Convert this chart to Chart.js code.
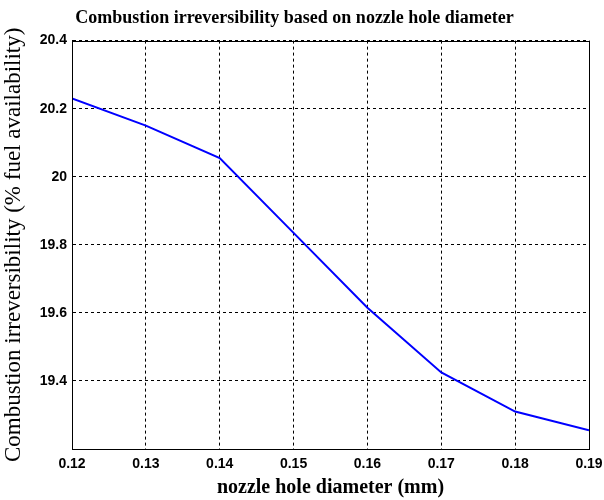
<!DOCTYPE html>
<html>
<head>
<meta charset="utf-8">
<script src="https://cdn.jsdelivr.net/npm/chart.js@4"></script>
<style>
  html, body { margin: 0; padding: 0; background: #fff; }
  #wrap { width: 604px; height: 500px; }
</style>
</head>
<body>
<div id="wrap"><canvas id="chart" width="604" height="500"></canvas></div>
<script>
// ── Data ────────────────────────────────────────────────────
const diameters = [0.12, 0.13, 0.14, 0.15, 0.16, 0.17, 0.18, 0.19];
const irreversibility = [20.23, 20.15, 20.055, 19.835, 19.615, 19.425, 19.31, 19.255];
const yTicks = [19.2, 19.4, 19.6, 19.8, 20, 20.2, 20.4];
const yHidden = [19.2];

const tickFont = { family: "'Liberation Sans', Arial, sans-serif", size: 14, weight: 'bold' };
const serif = "'Liberation Serif', 'Times New Roman', serif";

// plain black frame round the plot area
const frame = {
  id: 'frame',
  afterDraw(chart) {
    const { ctx, chartArea: a } = chart;
    ctx.save();
    ctx.strokeStyle = '#000';
    ctx.lineWidth = 1;
    ctx.strokeRect(Math.round(a.left) + 0.5, Math.round(a.top) + 0.5,
      Math.round(a.right - a.left), Math.round(a.bottom - a.top));
    ctx.restore();
  }
};

new Chart(document.getElementById('chart'), {
  type: 'line',
  data: {
    datasets: [{
      data: diameters.map((d, i) => ({ x: d, y: irreversibility[i] })),
      borderColor: '#0000ff',
      borderWidth: 2,
      pointRadius: 0,
      tension: 0,
      fill: false
    }]
  },
  options: {
    responsive: false,
    animation: false,
    layout: { padding: { left: 0, right: 15, top: 0, bottom: 0 } },
    plugins: {
      legend: { display: false },
      tooltip: { enabled: false },
      title: {
        display: true,
        text: 'Combustion irreversibility based on nozzle hole diameter',
        color: '#000',
        font: { family: serif, size: 18, weight: 'bold' },
        padding: { top: 8, bottom: 11 }
      }
    },
    scales: {
      x: {
        type: 'linear',
        min: 0.12,
        max: 0.19,
        afterBuildTicks: s => { s.ticks = diameters.map(v => ({ value: v })); },
        afterFit: s => { s.height = 51; s.paddingLeft = 0; s.paddingRight = 0; },
        ticks: {
          color: '#000',
          font: tickFont,
          padding: 7,
          maxRotation: 0,
          callback: v => v.toFixed(2)
        },
        grid: { color: '#000', lineWidth: 1, drawTicks: false },
        border: { display: true, color: '#000', dash: [3, 3] },
        title: {
          display: true,
          text: 'nozzle hole diameter (mm)',
          color: '#000',
          font: { family: serif, size: 20, weight: 'bold' },
          padding: { top: 0, bottom: 0 }
        }
      },
      y: {
        min: 19.2,
        max: 20.4,
        afterBuildTicks: s => { s.ticks = yTicks.map(v => ({ value: v })); },
        afterFit: s => { s.width = 72; },
        ticks: {
          color: '#000',
          font: tickFont,
          padding: 5,
          callback: v => yHidden.includes(v) ? '' : String(Number(v.toFixed(1)))
        },
        grid: { color: '#000', lineWidth: 1, drawTicks: false },
        border: { display: true, color: '#000', dash: [3, 3] },
        title: {
          display: true,
          text: 'Combustion irreversibility (% fuel availability)',
          color: '#000',
          font: { family: serif, size: 23 },
          padding: { top: 0, bottom: 4 }
        }
      }
    }
  },
  plugins: [frame]
});
</script>
</body>
</html>
